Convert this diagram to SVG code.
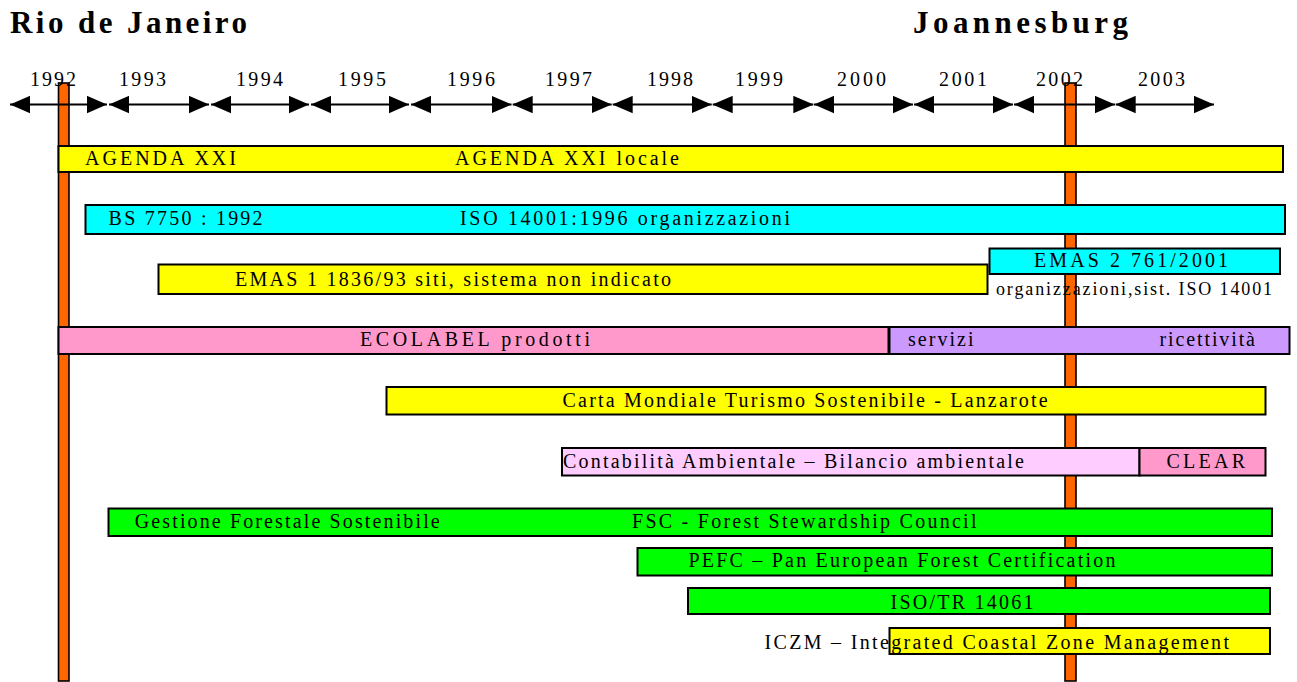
<svg xmlns="http://www.w3.org/2000/svg" width="1297" height="682" viewBox="0 0 1297 682">
<style>
text{font-family:"Liberation Serif","Times New Roman",serif;fill:#000}
.title{font-size:31px;font-weight:bold}
.yr{font-size:20px}
.t{font-size:20px}
.s{font-size:18px}
.bar{stroke:#000;stroke-width:2}
.ylw{fill:#FFFF00}.cyn{fill:#00FFFF}.pnk{fill:#FF99CC}.pur{fill:#CC99FF}.lpk{fill:#FFCCFF}.grn{fill:#00FF00}
.mark{fill:#FF6600;stroke:#000;stroke-width:1.6}
.tl{stroke:#000;stroke-width:2;fill:none;marker-start:url(#ah);marker-end:url(#ah)}
</style>
<defs>
<marker id="ah" markerUnits="userSpaceOnUse" markerWidth="20" markerHeight="18" refX="20" refY="9" orient="auto-start-reverse" viewBox="0 0 20 18">
<path d="M0,0.3 L20,9 L0,17.7 z" fill="#000"/>
</marker>
</defs>
<rect width="1297" height="682" fill="#fff"/>

<g id="titles">
<text class="title" x="10" y="33" textLength="237" lengthAdjust="spacing">Rio de Janeiro</text>
<text class="title" x="913" y="33" textLength="215" lengthAdjust="spacing">Joannesburg</text>
</g>

<g id="milestones">
<rect id="m1992" class="mark" x="58.5" y="83" width="10.5" height="598"/>
<rect id="m2002" class="mark" x="1065" y="83" width="11" height="598"/>
</g>

<g id="connectors">
<line class="tl" x1="10" y1="104.5" x2="107" y2="104.5"/>
<line class="tl" x1="109" y1="104.5" x2="209" y2="104.5"/>
<line class="tl" x1="211" y1="104.5" x2="309" y2="104.5"/>
<line class="tl" x1="311" y1="104.5" x2="409" y2="104.5"/>
<line class="tl" x1="411" y1="104.5" x2="511.5" y2="104.5"/>
<line class="tl" x1="512.7" y1="104.5" x2="611.7" y2="104.5"/>
<line class="tl" x1="612.7" y1="104.5" x2="711.7" y2="104.5"/>
<line class="tl" x1="712.7" y1="104.5" x2="813.3" y2="104.5"/>
<line class="tl" x1="814" y1="104.5" x2="913" y2="104.5"/>
<line class="tl" x1="914" y1="104.5" x2="1013" y2="104.5"/>
<line class="tl" x1="1014" y1="104.5" x2="1115" y2="104.5"/>
<line class="tl" x1="1115.7" y1="104.5" x2="1214" y2="104.5"/>
</g>

<g id="years">
<text class="yr" x="30" y="86" textLength="46" lengthAdjust="spacing">1992</text>
<text class="yr" x="119" y="86" textLength="47" lengthAdjust="spacing">1993</text>
<text class="yr" x="236" y="86" textLength="47" lengthAdjust="spacing">1994</text>
<text class="yr" x="338" y="86" textLength="48" lengthAdjust="spacing">1995</text>
<text class="yr" x="447" y="86" textLength="48" lengthAdjust="spacing">1996</text>
<text class="yr" x="545" y="86" textLength="47" lengthAdjust="spacing">1997</text>
<text class="yr" x="647" y="86" textLength="46" lengthAdjust="spacing">1998</text>
<text class="yr" x="735" y="86" textLength="48" lengthAdjust="spacing">1999</text>
<text class="yr" x="837" y="86" textLength="49" lengthAdjust="spacing">2000</text>
<text class="yr" x="939" y="86" textLength="48" lengthAdjust="spacing">2001</text>
<text class="yr" x="1036" y="86" textLength="47" lengthAdjust="spacing">2002</text>
<text class="yr" x="1138" y="86" textLength="47" lengthAdjust="spacing">2003</text>
</g>

<g id="agenda">
<rect class="bar ylw" x="58.5" y="146" width="1224.5" height="26"/>
<text class="t" x="85" y="165" textLength="151" lengthAdjust="spacing">AGENDA XXI</text>
<text class="t" x="455" y="165" textLength="224" lengthAdjust="spacing">AGENDA XXI locale</text>
</g>

<g id="iso14001">
<rect class="bar cyn" x="85.5" y="205" width="1199.5" height="29"/>
<text class="t" x="108.6" y="225" textLength="154" lengthAdjust="spacing">BS 7750 : 1992</text>
<text class="t" x="460" y="225" textLength="330" lengthAdjust="spacing">ISO 14001:1996  organizzazioni</text>
</g>

<g id="emas1">
<rect class="bar ylw" x="158.5" y="264.5" width="829" height="29.5"/>
<text class="t" x="235" y="285.5" textLength="436" lengthAdjust="spacing">EMAS 1 1836/93  siti, sistema non indicato</text>
</g>

<g id="emas2">
<rect class="bar cyn" x="989.5" y="248.5" width="290.5" height="25.5"/>
<text class="t" x="1034" y="266.5" textLength="194" lengthAdjust="spacing">EMAS 2  761/2001</text>
<text class="s" x="996" y="295" textLength="276" lengthAdjust="spacing">organizzazioni,sist. ISO 14001</text>
</g>

<g id="ecolabel">
<rect class="bar pnk" x="58.5" y="327" width="830" height="27"/>
<text class="t" x="360" y="346" textLength="230" lengthAdjust="spacing">ECOLABEL  prodotti</text>
</g>

<g id="servizi">
<rect class="bar pur" x="889.5" y="327" width="400" height="27"/>
<text class="t" x="908" y="346" textLength="65.5" lengthAdjust="spacing">servizi</text>
<text class="t" x="1159.5" y="346" textLength="95.5" lengthAdjust="spacing">ricettività</text>
</g>

<g id="carta">
<rect class="bar ylw" x="386.5" y="387" width="879" height="27.5"/>
<text class="t" x="562.6" y="406.5" textLength="485" lengthAdjust="spacing">Carta Mondiale  Turismo Sostenibile - Lanzarote</text>
</g>

<g id="contabilita">
<rect class="bar lpk" x="562" y="448" width="577.5" height="27.5"/>
<text class="t" x="563" y="467.5" textLength="461" lengthAdjust="spacing">Contabilità Ambientale – Bilancio ambientale</text>
</g>

<g id="clear">
<rect class="bar pnk" x="1139.5" y="448" width="126" height="27.5"/>
<text class="t" x="1166.5" y="467.5" textLength="78.5" lengthAdjust="spacing">CLEAR</text>
</g>

<g id="fsc">
<rect class="bar grn" x="108.5" y="508.5" width="1163.5" height="27.5"/>
<text class="t" x="134.7" y="528" textLength="305" lengthAdjust="spacing">Gestione Forestale Sostenibile</text>
<text class="t" x="632" y="528" textLength="344.5" lengthAdjust="spacing">FSC  - Forest Stewardship Council</text>
</g>

<g id="pefc">
<rect class="bar grn" x="637.5" y="548" width="634.5" height="27.5"/>
<text class="t" x="688.4" y="567.3" textLength="427" lengthAdjust="spacing">PEFC – Pan European Forest Certification</text>
</g>

<g id="isotr">
<rect class="bar grn" x="688" y="588" width="582" height="26"/>
<text class="t" x="890.5" y="608.5" textLength="143" lengthAdjust="spacing">ISO/TR 14061</text>
</g>

<g id="iczm">
<rect class="bar ylw" x="889.5" y="628" width="380.5" height="26"/>
<text class="t" x="764.5" y="649" textLength="464.5" lengthAdjust="spacing">ICZM – Integrated Coastal Zone Management</text>
</g>
</svg>
